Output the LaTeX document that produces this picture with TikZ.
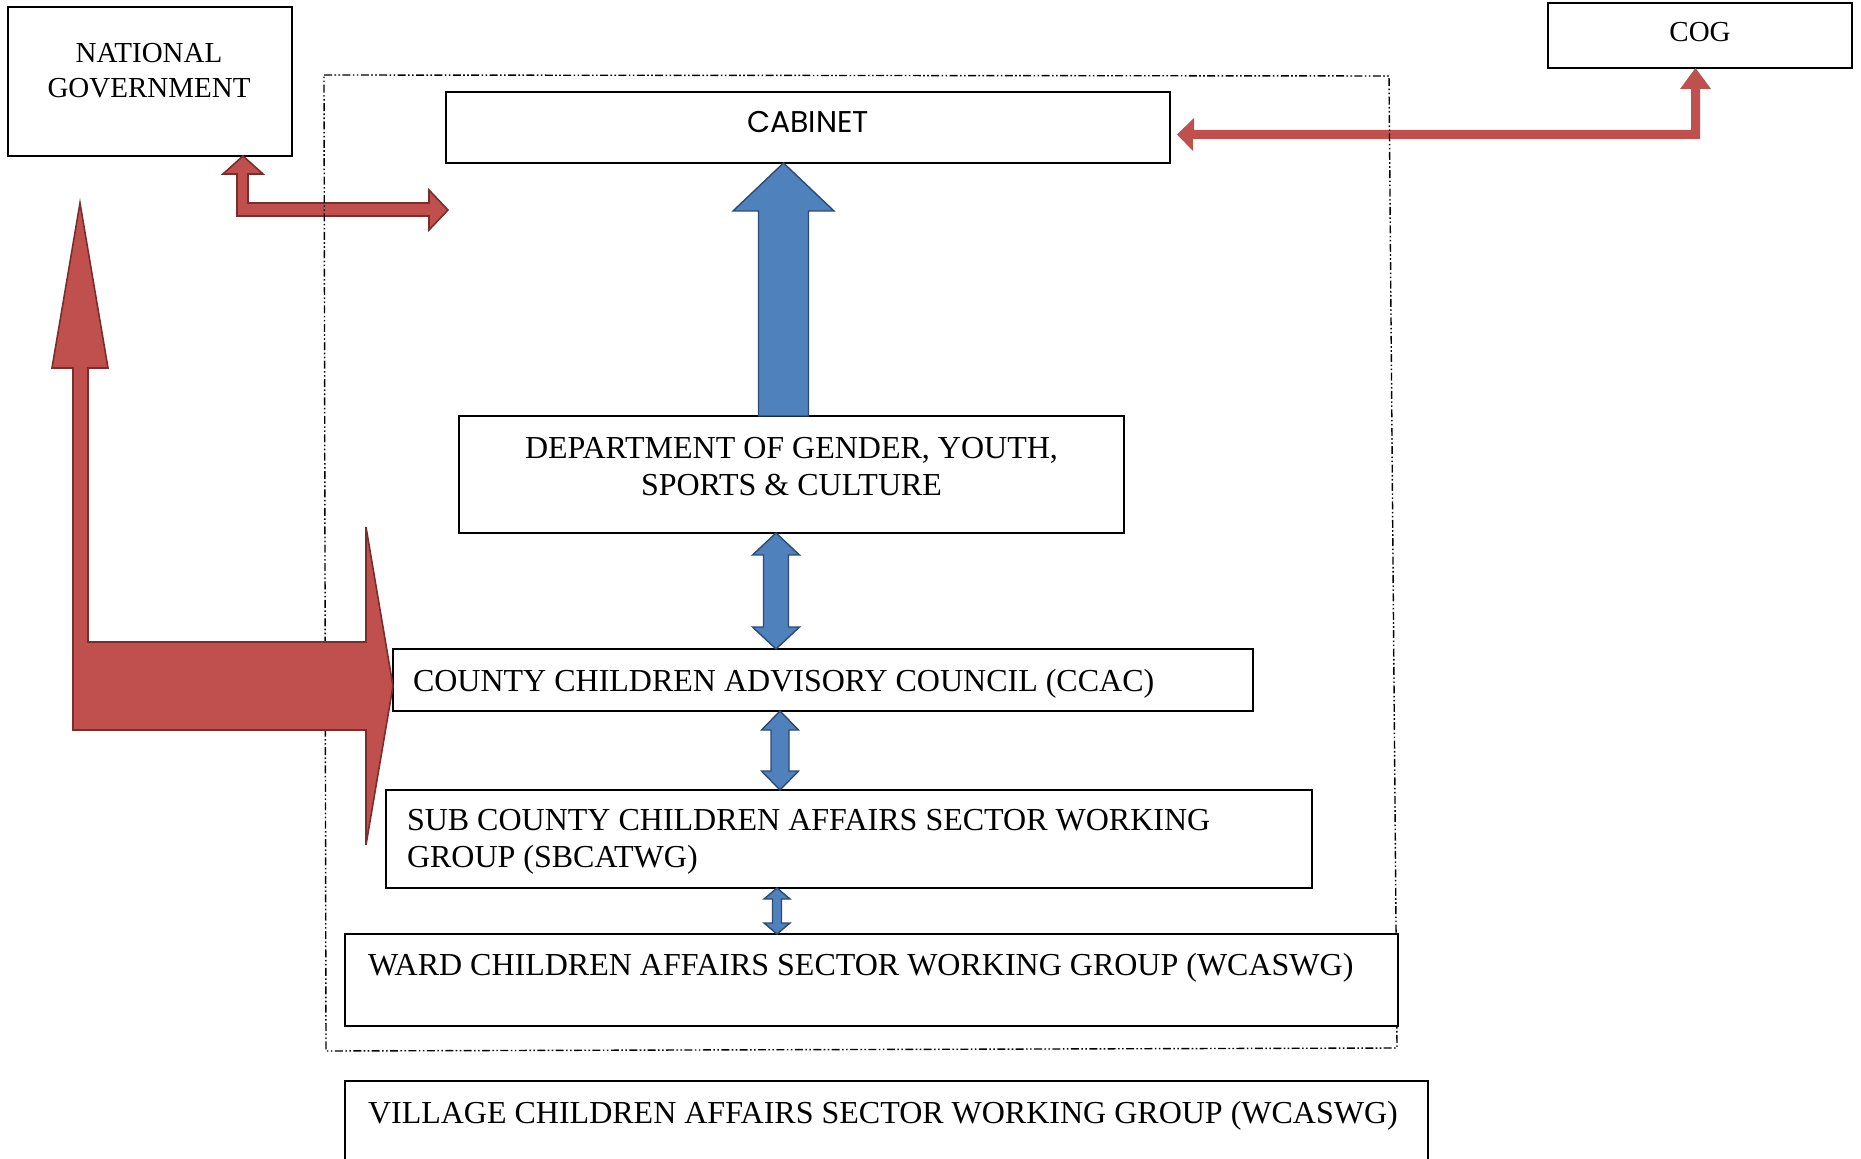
\documentclass[tikz,border=0pt]{standalone}
\usepackage{fontspec}
\setmainfont{Liberation Serif}
\newfontfamily\cabfont{Poppins}
\usetikzlibrary{calc,fit}
\definecolor{redfill}{HTML}{C0504D}
\definecolor{redline}{HTML}{7A2E2C}
\definecolor{bluefill}{HTML}{4F81BD}
\definecolor{blueline}{HTML}{2C4A72}
% vertical double-headed block arrow: #1 top tip, #2 bottom tip, #3 shaft half width, #4 head half width, #5 head length
\newcommand{\vblockdbl}[5]{%
  \path[bluearr] (#1) -- ++(#4,#5) -- ++(-#4+#3,0) -- ($(#2)+(#3,-#5)$) -- ++(#4-#3,0) -- (#2)
    -- ++(-#4,-#5) -- ++(#4-#3,0) -- ($(#1)+(-#3,#5)$) -- ++(-#4+#3,0) -- cycle;}
\begin{document}
\begin{tikzpicture}[x=0.5pt,y=-0.5pt,
  box/.style={draw=black, line width=1.45pt, fill=white, inner sep=0pt, outer sep=0pt},
  lbl/.style={inner sep=0pt, outer sep=0pt, font=\fontsize{16pt}{18.5pt}\selectfont},
  redarr/.style={fill=redfill, draw=redline, line width=0.8pt, line join=miter},
  bluearr/.style={fill=bluefill, draw=blueline, line width=0.7pt, line join=miter},
  frameline/.style={draw=black, line width=0.7pt,
    dash pattern=on 4pt off 1.2pt on 0.8pt off 1.2pt on 0.8pt off 1.2pt}]
\useasboundingbox (0,0) rectangle (1861,1159);
\clip (0,0) rectangle (1861,1159);

% boxes (positions)
\node[box, fit={(8,7) (292,156)}] (ng) {};
\node[box, fit={(1548,3) (1852,68)}] (cog) {};

% red arrows under the frame
\coordinate (ngtip) at (243,0 |- ng.south);
\coordinate (ngend) at (448,210);
\path[redarr] (ngtip) -- ++(20,18) -- ++(-15,0) -- (248,203) -- (429,203) -- (429,190) -- (ngend)
  -- (429,230) -- (429,216) -- (237,216) -- (237,174) -- (223,174) -- cycle;

\node[box, fit={(446,92) (1170,163)}] (cab) {};
\coordinate (cogtip) at (1695.5,0 |- cog.south);
\coordinate (cabtip) at ($(cab.east)+(7,7)$);
\path[fill=redfill] (cabtip) -- ++(17,-16.5) -- ++(0,12) -- (1691,130) -- (1691,89) -- (1680,89)
  -- (cogtip) -- (1711,89) -- (1700,89) -- (1700,139) -- (1193,139) -- (1193,151) -- cycle;

% dash-dot frame
\path[frameline] (324,75) -- (1389,76) -- (1397,1048) -- (326,1051) -- cycle;

% remaining boxes
\node[box, fit={(459,416) (1124,533)}] (dept) {};
\node[box, fit={(393,649) (1253,711)}] (ccac) {};
\node[box, fit={(386,790) (1312,888)}] (sb) {};
\node[box, fit={(345,934) (1398,1026)}] (ward) {};
\node[box, fit={(345,1081) (1428,1200)}] (vil) {};

% big red L arrow
\coordinate (Lup) at (80,203);
\coordinate (Ltip) at ($(ccac.west)+(0,6)$);
\path[redarr] (Lup) -- (108,368) -- (88,368) -- (88,642) -- (366,642) -- (366,527) -- (Ltip)
  -- (366,845) -- (366,730) -- (73,730) -- (73,368) -- (52,368) -- cycle;

% blue arrows
\coordinate (a0t) at (783.5,0 |- cab.south);
\coordinate (a0b) at (783.5,0 |- dept.north);
\path[bluearr] (a0t) -- ++(50.5,48) -- ++(-25.5,0) -- ($(a0b)+(25,0)$) -- ($(a0b)+(-25,0)$)
  -- ($(a0t)+(-25,48)$) -- ++(-25.5,0) -- cycle;
\coordinate (d1t) at (776,0 |- dept.south);
\coordinate (d1b) at (776,0 |- ccac.north);
\vblockdbl{d1t}{d1b}{12.5}{23.5}{22}
\coordinate (d2t) at (780,0 |- ccac.south);
\coordinate (d2b) at (780,0 |- sb.north);
\vblockdbl{d2t}{d2b}{9}{18.5}{19}
\coordinate (d3t) at (777,0 |- sb.south);
\coordinate (d3b) at (777,0 |- ward.north);
\vblockdbl{d3t}{d3b}{4.5}{13}{11}

% texts
\node[lbl, anchor=north, align=center, font=\fontsize{14.5pt}{17.75pt}\selectfont] (ngt) at (149,43) {NATIONAL\\GOVERNMENT};
\node[lbl, anchor=north, font=\fontsize{14.5pt}{17.75pt}\selectfont] (cogt) at (1700,22) {COG};
\node[lbl, anchor=north, font=\cabfont\fontsize{15pt}{18pt}\selectfont] (cabt) at (808,111) {CABINET};
\node[lbl, anchor=north, align=center] (deptt) at (791.5,437) {DEPARTMENT OF GENDER, YOUTH,\\SPORTS \& CULTURE};
\node[lbl, anchor=north west] (ccact) at (413,669) {COUNTY CHILDREN ADVISORY COUNCIL (CCAC)};
\node[lbl, anchor=north west, align=left] (sbt) at (407,809.5) {SUB COUNTY CHILDREN AFFAIRS SECTOR WORKING\\GROUP (SBCATWG)};
\node[lbl, anchor=north west] (wardt) at (368,953) {WARD CHILDREN AFFAIRS SECTOR WORKING GROUP (WCASWG)};
\node[lbl, anchor=north west] (vilt) at (368,1101) {VILLAGE CHILDREN AFFAIRS SECTOR WORKING GROUP (WCASWG)};
\end{tikzpicture}
\end{document}
